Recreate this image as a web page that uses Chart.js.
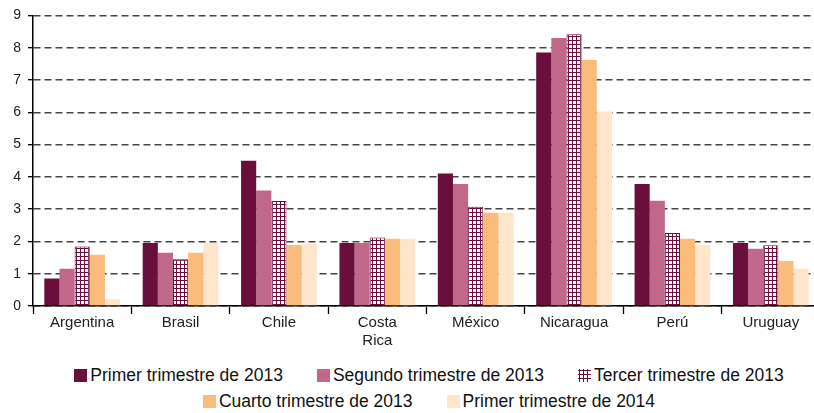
<!DOCTYPE html>
<html>
<head>
<meta charset="utf-8">
<script src="https://cdn.jsdelivr.net/npm/chart.js@4/dist/chart.umd.min.js"></script>
<style>
    html, body { margin: 0; padding: 0; background: #fff; overflow: hidden; }
    #wrap { position: relative; width: 822px; height: 350px; }
    #legend {
        position: absolute; left: 40px; top: 362px; width: 778px;
        display: flex; flex-wrap: wrap; justify-content: center;
        font-family: "Liberation Sans", Arial, sans-serif; font-size: 17.5px; color: #111;
    }
    .item { display: flex; align-items: center; margin: 0 17px; height: 26px; white-space: nowrap; }
    .box { width: 13px; height: 13px; margin-right: 3px; display: inline-block; }
</style>
</head>
<body>
<div id="wrap"><canvas id="chart"></canvas></div>
<div id="legend"></div>
<script>
const countries = ['Argentina', 'Brasil', 'Chile', ['Costa', 'Rica'], 'México', 'Nicaragua', 'Perú', 'Uruguay'];
const seriesNames = ['Primer trimestre de 2013', 'Segundo trimestre de 2013', 'Tercer trimestre de 2013', 'Cuarto trimestre de 2013', 'Primer trimestre de 2014'];

const q1_2013 = [0.85, 1.95, 4.5, 1.95, 4.1, 7.85, 3.78, 1.95];
const q2_2013 = [1.15, 1.65, 3.58, 1.95, 3.78, 8.3, 3.26, 1.77];
const q3_2013 = [1.84, 1.45, 3.25, 2.12, 3.07, 8.42, 2.26, 1.88];
const q4_2013 = [1.59, 1.65, 1.89, 2.08, 2.89, 7.62, 2.08, 1.39];
const q1_2014 = [0.21, 1.95, 1.93, 2.08, 2.89, 6.02, 1.89, 1.15];

const yTicks = [0, 1, 2, 3, 4, 5, 6, 7, 8, 9];

const maroon = '#6a0f3b';

function makeHatch() {
    const c = document.createElement('canvas');
    c.width = 4; c.height = 4;
    const g = c.getContext('2d');
    g.fillStyle = '#fff';
    g.fillRect(0, 0, 4, 4);
    g.fillStyle = maroon;
    g.fillRect(0, 0, 1, 4);
    g.fillRect(0, 0, 4, 1);
    return c;
}

const hatchCanvas = makeHatch();
const ctx = document.getElementById('chart').getContext('2d');
const hatch = ctx.createPattern(hatchCanvas, 'repeat');

const colors = [maroon, '#c0678a', hatch, '#fbbb7a', '#ffe5cb'];
const allValues = [q1_2013, q2_2013, q3_2013, q4_2013, q1_2014];

new Chart(ctx, {
    type: 'bar',
    data: {
        labels: countries,
        datasets: allValues.map((vals, i) => ({
            label: seriesNames[i],
            data: vals,
            backgroundColor: colors[i],
            borderWidth: i === 2 ? 1 : 0,
            borderColor: maroon,
            borderSkipped: 'bottom'
        }))
    },
    options: {
        responsive: true,
        maintainAspectRatio: false,
        animation: false,
        layout: { padding: { top: 15, right: 2, left: 0, bottom: 0 } },
        categoryPercentage: 0.77,
        barPercentage: 1.0,
        plugins: {
            legend: { display: false },
            tooltip: { enabled: false }
        },
        scales: {
            x: {
                offset: true,
                grid: {
                    display: true,
                    offset: true,
                    drawOnChartArea: false,
                    drawTicks: true,
                    tickLength: 8,
                    tickColor: '#000',
                    tickWidth: 1.3
                },
                border: { display: true, color: '#000', width: 1.5 },
                ticks: {
                    color: '#222',
                    padding: 0,
                    maxRotation: 0,
                    autoSkip: false,
                    font: { family: 'Liberation Sans', size: 15, lineHeight: 1.2 }
                },
                afterFit: s => { s.height = 44; }
            },
            y: {
                min: 0,
                max: 9,
                afterBuildTicks: s => { s.ticks = yTicks.map(v => ({ value: v })); },
                grid: {
                    color: '#444',
                    lineWidth: 1.4,
                    drawTicks: true,
                    tickLength: 5,
                    tickColor: '#000',
                    tickWidth: 1.3,
                    tickBorderDash: []
                },
                border: { display: true, color: '#000', width: 1.5, dash: [7, 4] },
                ticks: {
                    color: '#222',
                    padding: 7,
                    font: { family: 'Liberation Sans', size: 14 }
                },
                afterFit: s => { s.width = 33; }
            }
        }
    }
});

// legend
const legend = document.getElementById('legend');
const hatchUrl = hatchCanvas.toDataURL();
seriesNames.forEach((name, i) => {
    const item = document.createElement('div');
    item.className = 'item';
    const box = document.createElement('span');
    box.className = 'box';
    if (i === 2) {
        box.style.backgroundImage = 'url(' + hatchUrl + ')';
        box.style.backgroundPosition = '1px 1px';
    } else {
        box.style.background = colors[i];
    }
    item.appendChild(box);
    item.appendChild(document.createTextNode(name));
    legend.appendChild(item);
    if (i === 2) {
        const br = document.createElement('div');
        br.style.flexBasis = '100%';
        br.style.height = '0';
        legend.appendChild(br);
    }
});
</script>
</body>
</html>
